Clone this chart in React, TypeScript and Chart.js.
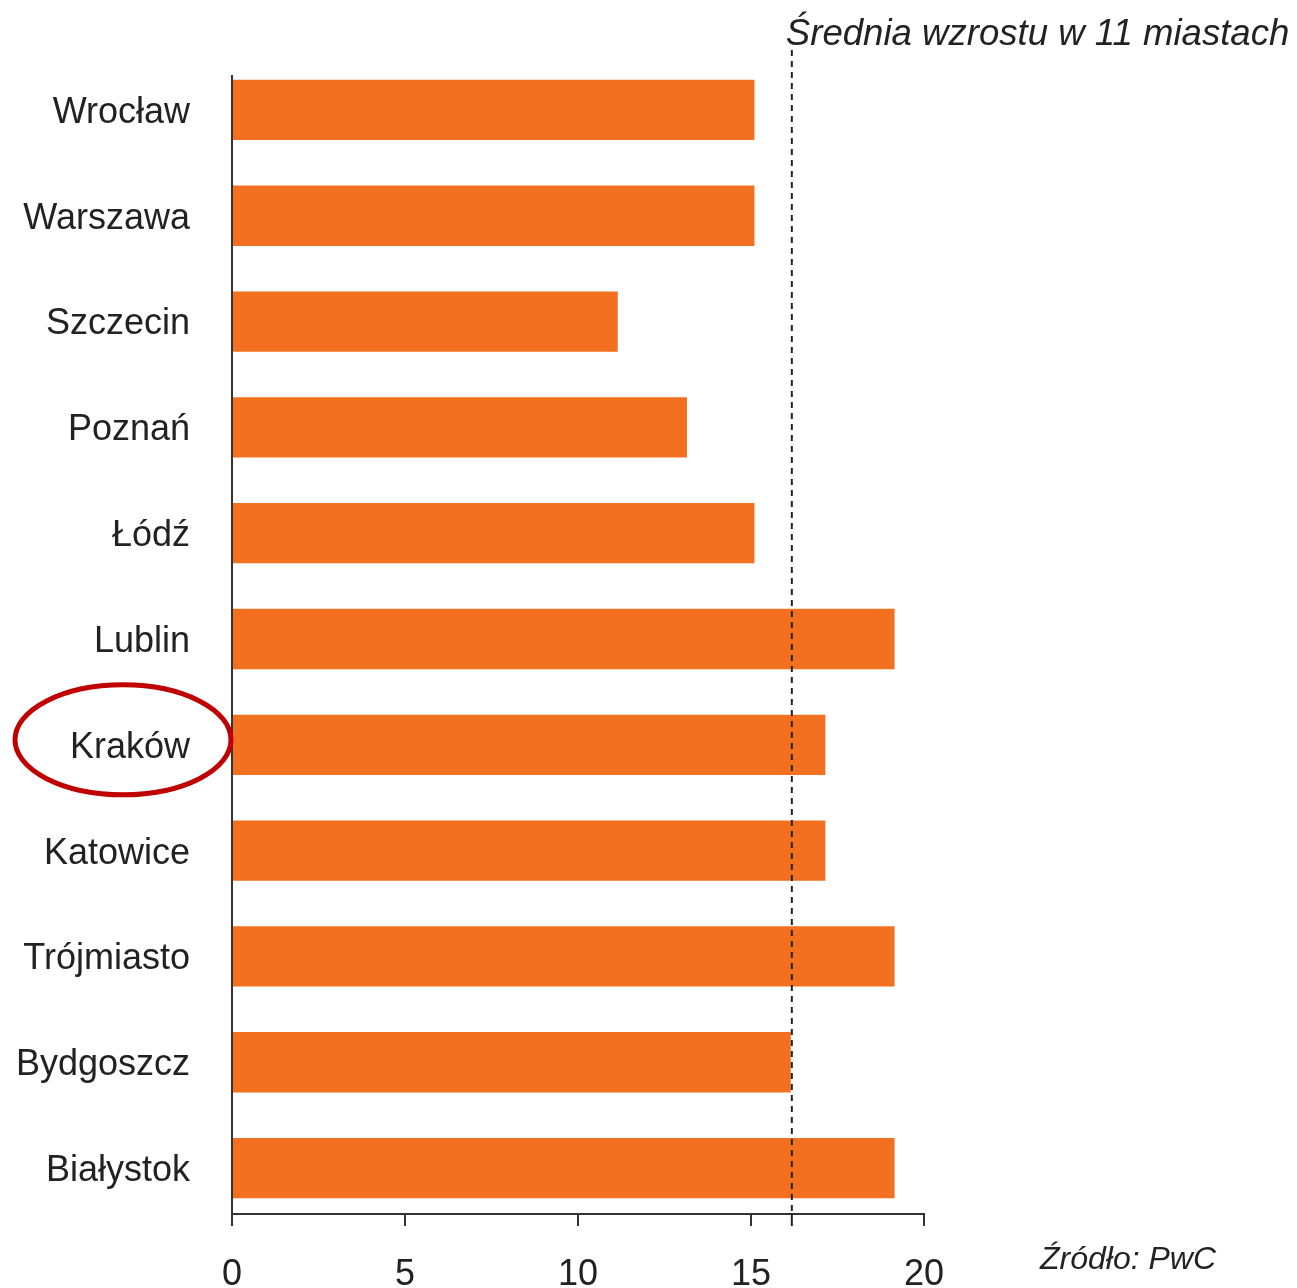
import React, { useEffect, useRef } from "react";
import { Chart, registerables } from "chart.js";

Chart.register(...registerables);

const cities = [
  "Wrocław",
  "Warszawa",
  "Szczecin",
  "Poznań",
  "Łódź",
  "Lublin",
  "Kraków",
  "Katowice",
  "Trójmiasto",
  "Bydgoszcz",
  "Białystok",
];
const growth = [15.1, 15.1, 11.15, 13.15, 15.1, 19.15, 17.15, 17.15, 19.15, 16.15, 19.15];
const averageGrowth = 16.18;
const xTicks = [0, 5, 10, 15, 20];
const averageLabel = "Średnia wzrostu w 11 miastach";
const sourceLabel = "Źródło: PwC";
const highlightedCity = "Kraków";

const FONT = "'Liberation Sans', Arial, sans-serif";
const AXIS_Y = 1214;

const overlay = {
  id: "overlay",
  afterDraw(chart: any) {
    const { ctx, chartArea, scales } = chart;
    const x = scales.x;
    const y = scales.y;
    ctx.save();
    ctx.strokeStyle = "#333";
    ctx.lineWidth = 2;
    // y axis line
    ctx.beginPath();
    ctx.moveTo(chartArea.left, 75);
    ctx.lineTo(chartArea.left, AXIS_Y + 1);
    ctx.stroke();
    // x axis line and tick marks
    ctx.beginPath();
    ctx.moveTo(chartArea.left - 1, AXIS_Y);
    ctx.lineTo(x.getPixelForValue(20) + 1, AXIS_Y);
    ctx.stroke();
    xTicks.forEach((v) => {
      const px = x.getPixelForValue(v);
      ctx.beginPath();
      ctx.moveTo(px, AXIS_Y);
      ctx.lineTo(px, AXIS_Y + 12);
      ctx.stroke();
    });
    // average dashed line
    const ax = x.getPixelForValue(averageGrowth);
    ctx.setLineDash([6, 5]);
    ctx.strokeStyle = "#222";
    ctx.beginPath();
    ctx.moveTo(ax, 50);
    ctx.lineTo(ax, AXIS_Y);
    ctx.stroke();
    ctx.setLineDash([]);
    ctx.beginPath();
    ctx.moveTo(ax, AXIS_Y);
    ctx.lineTo(ax, AXIS_Y + 12);
    ctx.stroke();
    // average label
    ctx.fillStyle = "#222";
    ctx.font = `italic 36.6px ${FONT}`;
    ctx.textAlign = "left";
    ctx.textBaseline = "alphabetic";
    ctx.fillText(averageLabel, ax - 6, 45);
    // source
    ctx.font = `italic 32px ${FONT}`;
    ctx.fillText(sourceLabel, 1040, 1269);
    // highlight ellipse
    const idx = cities.indexOf(highlightedCity);
    const cy = y.getPixelForValue(idx);
    ctx.strokeStyle = "#C00000";
    ctx.lineWidth = 5;
    ctx.beginPath();
    ctx.ellipse(123, cy - 5, 108, 55, 0, 0, Math.PI * 2);
    ctx.stroke();
    ctx.restore();
  },
};

export default function App() {
  const ref = useRef<HTMLCanvasElement>(null);
  useEffect(() => {
    document.body.style.margin = "0";
    document.body.style.overflow = "hidden";
    const chart = new Chart(ref.current!, {
      type: "bar",
      data: {
        labels: cities,
        datasets: [
          {
            data: growth,
            backgroundColor: "#F37021",
            borderWidth: 0,
            barPercentage: 0.57,
            categoryPercentage: 1,
          },
        ],
      },
      options: {
        indexAxis: "y",
        animation: false,
        responsive: false,
        devicePixelRatio: 1,
        layout: { padding: { top: 57, right: 373, left: 0, bottom: 0 } },
        plugins: { legend: { display: false }, tooltip: { enabled: false } },
        scales: {
          x: {
            min: 0,
            max: 20,
            afterFit(scale: any) {
              scale.height = 67;
              scale.paddingLeft = 0;
              scale.paddingRight = 0;
            },
            afterBuildTicks(scale: any) {
              scale.ticks = xTicks.map((v) => ({ value: v }));
            },
            border: { display: false },
            grid: { display: false, drawOnChartArea: false, drawTicks: false },
            ticks: { font: { family: FONT, size: 36 }, color: "#222", padding: 32, maxRotation: 0 },
          },
          y: {
            afterFit(scale: any) {
              scale.width = 232;
              scale.paddingTop = 0;
              scale.paddingBottom = 0;
            },
            border: { display: false },
            grid: { display: false, drawTicks: false },
            ticks: { font: { family: FONT, size: 36 }, color: "#222", padding: 42, labelOffset: 3 },
          },
        },
      },
      plugins: [overlay],
    });
    return () => chart.destroy();
  }, []);
  return <canvas ref={ref} width={1297} height={1288} style={{ display: "block" }} />;
}
